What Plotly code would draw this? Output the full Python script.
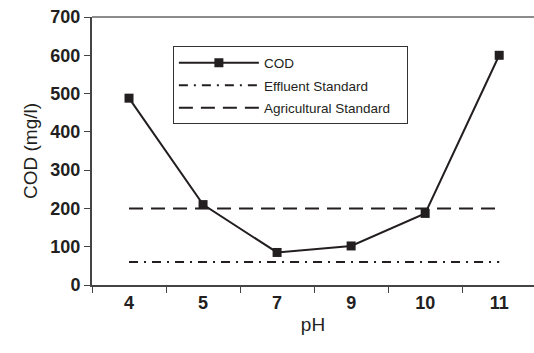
import plotly.graph_objects as go

ph = ["4", "5", "7", "9", "10", "11"]
cod = [488, 210, 85, 102, 187, 600]
effluent = [60, 60, 60, 60, 60, 60]
agricultural = [200, 200, 200, 200, 200, 200]
yticks = [0, 100, 200, 300, 400, 500, 600, 700]

ink = "#231f20"
FONT = "Liberation Sans"
fig = go.Figure()
fig.add_trace(go.Scatter(x=ph, y=cod, name="COD", mode="lines+markers",
                         legendgroup="a",
                         line=dict(color=ink, width=2),
                         marker=dict(symbol="square", size=9, color=ink)))
fig.add_trace(go.Scatter(x=ph, y=effluent, name="Effluent Standard", mode="lines",
                         legendgroup="b",
                         line=dict(color=ink, width=2, dash="9px,6px,2px,6px")))
fig.add_trace(go.Scatter(x=ph, y=agricultural, name="Agricultural Standard\u00a0\u00a0\u00a0",
                         mode="lines", legendgroup="c",
                         line=dict(color=ink, width=2, dash="14px,8px")))

tickfont = dict(size=18, family="Arial, Liberation Sans, sans-serif", color=ink, weight=700)

fig.update_layout(
    width=534, height=353,
    margin=dict(l=92, r=0, t=17, b=68),
    paper_bgcolor="white", plot_bgcolor="white",
    font=dict(family=FONT, color=ink),
    showlegend=True,
    legend=dict(x=0.183, y=0.89, xanchor="left", yanchor="top",
                bordercolor="#333", borderwidth=1, bgcolor="white",
                font=dict(size=13.5, color=ink, family=FONT), itemwidth=80,
                tracegroupgap=2),
    xaxis=dict(type="category", range=[-0.5, 5.47], showgrid=False,
               showline=True, linecolor="#444", linewidth=2,
               ticks="outside", tickson="boundaries", ticklen=6,
               tickcolor="#444", tickwidth=1,
               tickfont=tickfont,
               title=dict(text="pH", font=dict(size=19, family=FONT), standoff=6),
               mirror=False),
    yaxis=dict(range=[0, 700], tickvals=yticks, showgrid=False, zeroline=False,
               showline=True, linecolor="#444", linewidth=2,
               ticks="outside", ticklen=6, tickcolor="#444", tickwidth=1,
               tickfont=tickfont,
               title=dict(text="COD (mg/l)", font=dict(size=19, family=FONT), standoff=8)),
)
# top border line
fig.add_shape(type="line", xref="paper", yref="paper", x0=0, x1=1, y0=1, y1=1,
              line=dict(color="#666", width=1.5))

fig.write_html("out.html")
